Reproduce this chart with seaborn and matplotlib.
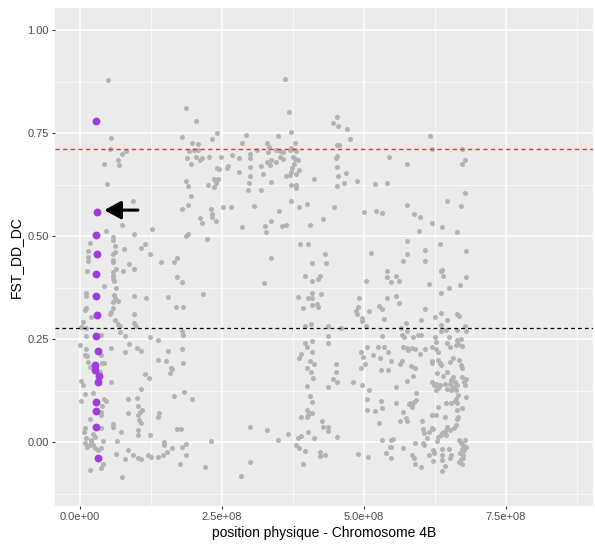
import numpy as np
import pandas as pd
import seaborn as sns
import matplotlib
matplotlib.use("Agg")
import matplotlib.pyplot as plt

# positions en unites de 1e8 pb, FST
# SNP du bloc ~28 Mb (en violet)
purple_pos = [0.28, 0.30, 0.28, 0.30, 0.28, 0.28, 0.30, 0.28, 0.32, 0.27, 0.26, 0.33, 0.31, 0.28, 0.28, 0.28, 0.31]
purple_fst = [0.779, 0.559, 0.502, 0.456, 0.408, 0.354, 0.308, 0.257, 0.221, 0.187, 0.175, 0.160, 0.146, 0.098, 0.075, 0.037, -0.038]

# autres SNP (gris), par region du chromosome
gray_left = [
    (0.49, 0.879), (0.55, 0.739), (0.53, 0.712), (0.81, 0.706), (0.74, 0.70), (0.43, 0.676), (0.67, 0.684),
    (0.68, 0.672), (0.475, 0.626), (0.93, 0.585), (0.745, 0.528), (0.45, 0.512), (0.58, 0.498), (0.58, 0.49),
    (0.95, 0.505), (1.27, 0.517), (0.18, 0.484), (0.62, 0.476), (0.61, 0.462), (0.58, 0.456), (0.77, 0.468),
    (1.14, 0.48), (1.08, 0.47), (0.15, 0.464), (0.15, 0.45), (0.15, 0.44), (1.24, 0.457), (1.43, 0.437),
    (0.58, 0.443), (0.58, 0.437), (0.86, 0.432), (0.95, 0.42), (0.76, 0.415), (0.64, 0.42), (0.12, 0.415),
    (0.58, 0.412), (0.58, 0.404), (0.58, 0.396), (0.6, 0.39), (0.42, 0.379), (0.64, 0.375), (0.11, 0.361),
    (0.11, 0.355), (0.6, 0.358), (0.62, 0.349), (0.58, 0.341), (0.67, 0.342), (0.95, 0.354), (1.17, 0.35),
    (0.11, 0.325), (0.08, 0.32), (0.58, 0.325), (0.55, 0.316), (0.2, 0.304), (0.52, 0.31), (0.96, 0.31),
    (0.05, 0.292), (0.02, 0.28), (0.61, 0.296), (0.67, 0.286), (0.7, 0.282), (0.96, 0.288), (0.99, 0.282),
    (0.11, 0.276), (0.11, 0.258), (0.37, 0.261), (0.7, 0.268), (0.79, 0.257), (1.23, 0.254), (1.37, 0.249),
    (0.0, 0.235), (0.11, 0.227), (0.08, 0.211), (0.13, 0.209), (0.55, 0.229), (0.86, 0.237), (1.0, 0.229),
    (1.07, 0.221), (0.8, 0.218), (0.37, 0.211), (0.39, 0.191), (1.37, 0.2), (1.52, 0.197), (0.14, 0.195),
    (0.17, 0.183), (0.43, 0.191), (0.35, 0.171), (0.01, 0.148), (0.05, 0.138), (0.54, 0.146), (1.15, 0.165),
    (1.21, 0.155), (1.07, 0.13), (0.08, 0.117), (0.23, 0.12), (0.43, 0.104), (0.46, 0.1), (0.02, 0.1),
    (0.39, 0.087), (0.37, 0.072), (0.84, 0.104), (1.0, 0.106), (1.02, 0.087), (1.05, 0.074), (1.09, 0.078),
    (0.84, 0.07), (1.02, 0.066), (1.04, 0.053), (1.07, 0.047), (1.4, 0.07), (1.37, 0.061), (0.17, 0.057),
    (0.37, 0.066), (0.58, 0.045), (0.58, 0.037), (0.08, 0.035), (0.07, 0.025), (0.37, 0.035), (0.73, 0.024),
    (1.02, 0.029), (1.02, 0.017), (1.23, 0.017), (0.23, 0.019), (0.26, 0.013), (0.11, 0.009), (0.2, 0.001),
    (0.17, -0.006), (0.23, -0.007), (0.26, -0.015), (0.32, -0.019), (0.37, -0.015), (0.13, -0.011),
    (0.08, -0.003), (0.2, 0.005), (0.66, 0.002), (0.4, 0.002), (1.48, 0.0), (1.48, -0.007), (0.84, -0.019),
    (0.93, -0.032), (1.02, -0.038), (1.07, -0.04), (1.2, -0.032), (1.25, -0.036), (1.37, -0.036),
    (1.46, -0.032), (0.64, -0.03), (0.8, -0.042), (0.4, -0.052), (0.37, -0.064), (0.18, -0.068), (0.74, -0.084),
]

gray_mid = [
    (1.87, 0.81), (2.04, 0.78), (1.79, 0.741), (2.41, 0.751), (2.33, 0.735), (2.93, 0.745), (2.85, 0.727),
    (3.29, 0.727), (1.97, 0.727), (2.07, 0.723), (2.08, 0.71), (1.92, 0.706), (2.01, 0.709), (1.88, 0.689),
    (1.95, 0.676), (2.04, 0.692), (2.11, 0.684), (2.15, 0.689), (2.28, 0.692), (2.48, 0.691), (2.67, 0.697),
    (2.8, 0.689), (2.99, 0.699), (2.99, 0.689), (3.11, 0.71), (3.33, 0.715), (3.31, 0.705), (3.29, 0.68),
    (3.34, 0.672), (3.19, 0.67), (2.41, 0.666), (2.45, 0.663), (2.6, 0.67), (2.58, 0.664), (2.8, 0.656),
    (2.99, 0.667), (3.23, 0.65), (2.99, 0.646), (3.36, 0.631), (1.86, 0.633), (1.91, 0.621), (2.36, 0.639),
    (2.43, 0.639), (2.39, 0.628), (2.26, 0.623), (2.36, 0.62), (2.97, 0.63), (2.96, 0.613), (3.18, 0.613),
    (1.95, 0.598), (1.91, 0.575), (1.79, 0.565), (2.51, 0.571), (2.66, 0.571), (3.07, 0.574), (2.3, 0.565),
    (2.32, 0.553), (2.33, 0.547), (2.11, 0.544), (2.14, 0.532), (2.39, 0.536), (2.86, 0.523), (3.36, 0.537),
    (3.26, 0.524), (3.27, 0.509), (1.86, 0.501), (1.91, 0.504), (2.23, 0.493), (1.7, 0.447), (1.66, 0.436),
    (1.7, 0.4), (3.36, 0.447), (1.79, 0.388), (3.24, 0.385), (2.17, 0.359), (1.55, 0.351), (1.69, 0.327),
    (1.82, 0.327), (1.79, 0.269), (1.82, 0.26), (1.55, 0.222), (1.79, 0.227), (1.82, 0.191), (1.6, 0.18),
    (1.62, 0.177), (1.58, 0.168), (1.66, 0.112), (1.83, 0.122), (1.98, 0.104), (1.7, 0.032), (1.78, 0.031),
    (2.99, 0.036), (3.3, 0.029), (2.3, 0.003), (1.87, -0.005), (1.79, -0.011), (1.62, -0.014), (1.54, -0.025),
    (1.87, -0.032), (1.76, -0.053), (2.2, -0.06), (2.99, -0.048), (2.83, -0.083),
]

gray_centre = [
    (3.61, 0.881), (3.68, 0.8), (3.71, 0.752), (3.49, 0.743), (3.78, 0.727), (3.71, 0.713), (3.7, 0.709),
    (3.78, 0.71), (3.81, 0.707), (3.45, 0.709), (3.52, 0.706), (3.58, 0.705), (3.53, 0.691), (3.57, 0.686),
    (3.37, 0.684), (3.45, 0.68), (3.75, 0.691), (3.78, 0.686), (3.84, 0.684), (3.77, 0.674), (3.74, 0.664),
    (3.71, 0.656), (3.86, 0.66), (3.63, 0.646), (3.69, 0.648), (3.8, 0.65), (3.72, 0.624), (3.8, 0.625),
    (3.8, 0.616), (4.12, 0.638), (3.72, 0.585), (3.51, 0.561), (3.86, 0.57), (4.0, 0.579), (3.56, 0.525),
    (3.63, 0.527), (4.05, 0.528), (4.28, 0.541), (4.52, 0.79), (4.45, 0.774), (4.55, 0.768), (4.7, 0.759),
    (4.75, 0.735), (4.52, 0.72), (4.56, 0.721), (4.52, 0.694), (4.5, 0.689), (4.52, 0.667), (4.54, 0.646),
    (4.69, 0.654), (4.65, 0.63), (4.87, 0.633), (4.53, 0.621), (4.48, 0.571), (5.0, 0.559), (3.87, 0.48),
    (4.02, 0.48), (4.31, 0.456), (4.34, 0.435), (4.09, 0.434), (5.12, 0.459),
    (3.97, 0.404), (4.09, 0.391), (4.19, 0.396), (4.22, 0.403), (5.04, 0.392), (3.84, 0.353), (4.01, 0.35),
    (4.08, 0.35), (4.08, 0.363), (4.25, 0.359), (3.93, 0.326), (4.09, 0.333), (4.18, 0.334), (4.19, 0.327),
    (4.92, 0.349), (4.9, 0.328), (4.86, 0.319), (4.87, 0.31), (4.96, 0.302), (4.96, 0.294), (5.09, 0.318),
    (3.96, 0.282), (4.06, 0.286), (4.37, 0.282), (4.6, 0.277), (5.04, 0.282), (4.37, 0.257), (4.37, 0.241),
    (4.09, 0.246), (3.96, 0.241), (4.0, 0.231), (3.89, 0.215), (3.85, 0.203), (4.08, 0.219), (5.06, 0.23),
    (4.95, 0.219), (4.99, 0.207), (5.16, 0.211), (4.05, 0.197), (4.12, 0.189), (4.0, 0.18), (4.5, 0.189),
    (5.02, 0.19), (4.95, 0.181), (4.07, 0.169), (4.11, 0.156), (4.5, 0.169), (4.45, 0.152), (4.53, 0.146),
    (3.99, 0.136), (4.37, 0.133), (4.81, 0.145), (4.97, 0.138), (5.09, 0.126), (5.05, 0.104), (4.05, 0.112),
    (4.09, 0.098), (5.06, 0.078), (4.0, 0.079), (4.05, 0.071), (4.09, 0.07), (3.99, 0.061), (4.02, 0.066),
    (3.89, 0.061), (4.27, 0.052), (4.28, 0.036), (4.37, 0.037), (4.37, 0.027), (4.02, 0.024), (4.53, 0.013),
    (3.66, 0.019), (3.84, 0.009), (3.89, 0.015), (4.12, 0.009), (3.49, 0.005), (3.81, -0.007), (3.86, -0.014),
    (3.96, -0.021), (4.22, -0.024), (4.23, -0.034), (4.31, -0.032), (4.9, -0.03), (5.07, -0.037), (3.93, -0.053),
]

gray_right = [
    (6.16, 0.743), (6.2, 0.711), (6.72, 0.711), (5.44, 0.692), (5.75, 0.676), (6.78, 0.684), (6.72, 0.674),
    (5.2, 0.626), (5.4, 0.628), (6.78, 0.605), (6.46, 0.585), (5.75, 0.575), (6.71, 0.573), (5.22, 0.561),
    (5.32, 0.557), (5.88, 0.553), (5.98, 0.547), (6.19, 0.532), (6.38, 0.523), (5.97, 0.513), (6.63, 0.51),
    (5.76, 0.488), (6.34, 0.481), (5.75, 0.456), (6.07, 0.466), (6.79, 0.464), (5.68, 0.439), (6.07, 0.44),
    (5.4, 0.415), (5.41, 0.401), (5.56, 0.404), (6.35, 0.415), (6.38, 0.417), (6.39, 0.404), (6.79, 0.401),
    (5.48, 0.388), (5.62, 0.392), (6.15, 0.383), (6.49, 0.375), (6.69, 0.381), (5.4, 0.349), (5.56, 0.355),
    (5.62, 0.337), (5.26, 0.33), (5.32, 0.323), (6.35, 0.361), (6.08, 0.323), (6.25, 0.304), (6.36, 0.314),
    (6.46, 0.296), (6.63, 0.31), (6.68, 0.307), (5.35, 0.299), (5.74, 0.29), (6.0, 0.296), (5.65, 0.277),
    (5.67, 0.261), (5.7, 0.256), (5.86, 0.256), (5.95, 0.261), (6.0, 0.261), (5.76, 0.269), (5.32, 0.258),
    (6.35, 0.284), (6.35, 0.269), (6.45, 0.272), (6.49, 0.256), (6.64, 0.272), (6.78, 0.282), (6.79, 0.269),
    (6.25, 0.256), (6.27, 0.243), (6.64, 0.249), (6.7, 0.25), (6.66, 0.237), (6.72, 0.234), (6.62, 0.235),
    (6.46, 0.24), (6.51, 0.231), (5.25, 0.231), (5.35, 0.231), (5.69, 0.231), (5.75, 0.229), (5.84, 0.229),
    (5.9, 0.227), (5.78, 0.223), (6.07, 0.226), (5.98, 0.215), (6.2, 0.231), (6.27, 0.227), (6.3, 0.219),
    (5.42, 0.219), (5.28, 0.205), (5.48, 0.197), (6.56, 0.205), (6.67, 0.199), (6.52, 0.195), (6.19, 0.197),
    (6.3, 0.199), (6.33, 0.193), (6.36, 0.187), (6.2, 0.193), (5.67, 0.197), (5.63, 0.189), (6.7, 0.187),
    (6.73, 0.179), (5.82, 0.185), (5.9, 0.179), (5.3, 0.175), (5.43, 0.175), (6.29, 0.168), (6.39, 0.16),
    (6.46, 0.171), (5.87, 0.161), (6.56, 0.158), (6.53, 0.15), (6.6, 0.146), (6.64, 0.138), (6.51, 0.142),
    (6.56, 0.134), (6.73, 0.158), (6.8, 0.153), (6.76, 0.146), (6.78, 0.138), (5.75, 0.148), (6.2, 0.145),
    (6.23, 0.138), (6.27, 0.142), (6.3, 0.132), (6.27, 0.126), (6.34, 0.138), (6.43, 0.142), (6.46, 0.13),
    (6.54, 0.126), (6.62, 0.126), (6.66, 0.114), (6.62, 0.104), (6.6, 0.1), (6.64, 0.094), (6.8, 0.11),
    (6.73, 0.082), (5.57, 0.133), (5.92, 0.118), (5.3, 0.1), (5.32, 0.083), (5.2, 0.075), (5.56, 0.096),
    (5.81, 0.094), (5.85, 0.09), (5.88, 0.098), (5.91, 0.102), (5.84, 0.086), (5.8, 0.092), (6.45, 0.094),
    (6.54, 0.094), (6.3, 0.086), (6.63, 0.078), (6.66, 0.061), (6.64, 0.057), (5.68, 0.072), (5.74, 0.059),
    (5.75, 0.051), (5.63, 0.051), (5.27, 0.047), (6.03, 0.052), (6.2, 0.066), (6.27, 0.066), (6.43, 0.061),
    (6.62, 0.041), (6.58, 0.035), (6.46, 0.037), (6.51, 0.029), (6.43, 0.027), (6.38, 0.021), (6.35, 0.017),
    (6.3, 0.013), (6.44, 0.017), (6.04, 0.033), (6.06, 0.021), (6.19, 0.035), (6.22, 0.031), (6.15, 0.025),
    (6.11, 0.009), (6.28, 0.003), (5.32, 0.006), (5.47, 0.005), (5.51, 0.007), (5.46, -0.011), (5.48, -0.011),
    (5.38, -0.027), (5.47, -0.038), (5.69, -0.015), (5.89, -0.002), (6.04, -0.002), (6.06, -0.007),
    (5.84, -0.032), (5.88, -0.038), (5.89, -0.053), (6.0, -0.06), (6.15, -0.032), (6.22, -0.019),
    (6.23, -0.027), (6.22, -0.045), (6.37, -0.017), (6.37, -0.032), (6.37, -0.044), (6.49, -0.017),
    (6.54, -0.032), (6.52, -0.038), (6.43, -0.058), (6.38, -0.07), (6.67, 0.005), (6.7, -0.003), (6.78, 0.005),
    (6.75, -0.007), (6.8, -0.011), (6.72, -0.017), (6.76, -0.019), (6.69, -0.027), (6.74, -0.032),
    (6.7, -0.041), (6.67, -0.048), (6.72, -0.052), (6.75, -0.038),
]

seuil_haut = 0.711   # ligne rouge
seuil_bas = 0.277    # ligne noire
fleche_y = 0.563
fleche_debut = 1.02e8
fleche_fin = 0.43e8

x_ticks = [0, 2.5e8, 5.0e8, 7.5e8]
x_labels = ["0.0e+00", "2.5e+08", "5.0e+08", "7.5e+08"]
y_ticks = [0.0, 0.25, 0.5, 0.75, 1.0]
y_labels = ["0.00", "0.25", "0.50", "0.75", "1.00"]

gray = pd.DataFrame(gray_left + gray_mid + gray_centre + gray_right, columns=["pos", "fst"])
gray["pos"] = gray["pos"] * 1e8
purple = pd.DataFrame({"pos": np.array(purple_pos) * 1e8, "fst": purple_fst})

sns.set_style("darkgrid", {"axes.facecolor": "#EBEBEB", "grid.color": "white"})
plt.rcParams['font.family'] = ['Liberation Sans', 'DejaVu Sans']

fig = plt.figure(figsize=(5.95, 5.47), dpi=100)
ax = fig.add_axes([0.0924, 0.075, 0.904, 0.910])

sns.scatterplot(data=gray, x="pos", y="fst", color="#B3B3B3", s=13, linewidth=0, ax=ax, zorder=3)
sns.scatterplot(data=purple, x="pos", y="fst", color="#A03CDC", s=32, linewidth=0, ax=ax, zorder=4)

ax.axhline(seuil_haut, color="#E03535", linestyle=(0, (3, 2.5)), linewidth=1.0, zorder=5)
ax.axhline(seuil_bas, color="black", linestyle=(0, (3, 2.5)), linewidth=0.9, zorder=5)

ax.annotate("", xy=(fleche_fin, fleche_y), xytext=(fleche_debut, fleche_y),
            arrowprops=dict(arrowstyle="-|>,head_length=1.0,head_width=0.55", color="black", lw=2.2,
                            shrinkA=0, shrinkB=0),
            zorder=6)

ax.set_xlim(-0.44e8, 9.03e8)
ax.set_ylim(-0.155, 1.053)
ax.set_xticks(x_ticks)
ax.set_xticklabels(x_labels)
ax.set_yticks(y_ticks)
ax.set_yticklabels(y_labels)
ax.set_xticks([1.25e8, 3.75e8, 6.25e8, 8.75e8], minor=True)
ax.set_yticks([-0.125, 0.125, 0.375, 0.625, 0.875], minor=True)
ax.grid(which="major", color="white", linewidth=1.1)
ax.grid(which="minor", color="white", linewidth=0.5)
ax.set_axisbelow(True)
for s in ax.spines.values():
    s.set_visible(False)

ax.tick_params(which="major", length=2.5, width=0.8, color="#333333", labelcolor="#4D4D4D",
               labelsize=8, pad=2, bottom=True, left=True)
ax.tick_params(which="minor", length=0)

ax.set_xlabel("position physique - Chromosome 4B", fontsize=10, color="black", labelpad=3)
ax.set_ylabel("FST_DD_DC", fontsize=10, color="black", labelpad=3)

fig.savefig("out.png", dpi=100)
